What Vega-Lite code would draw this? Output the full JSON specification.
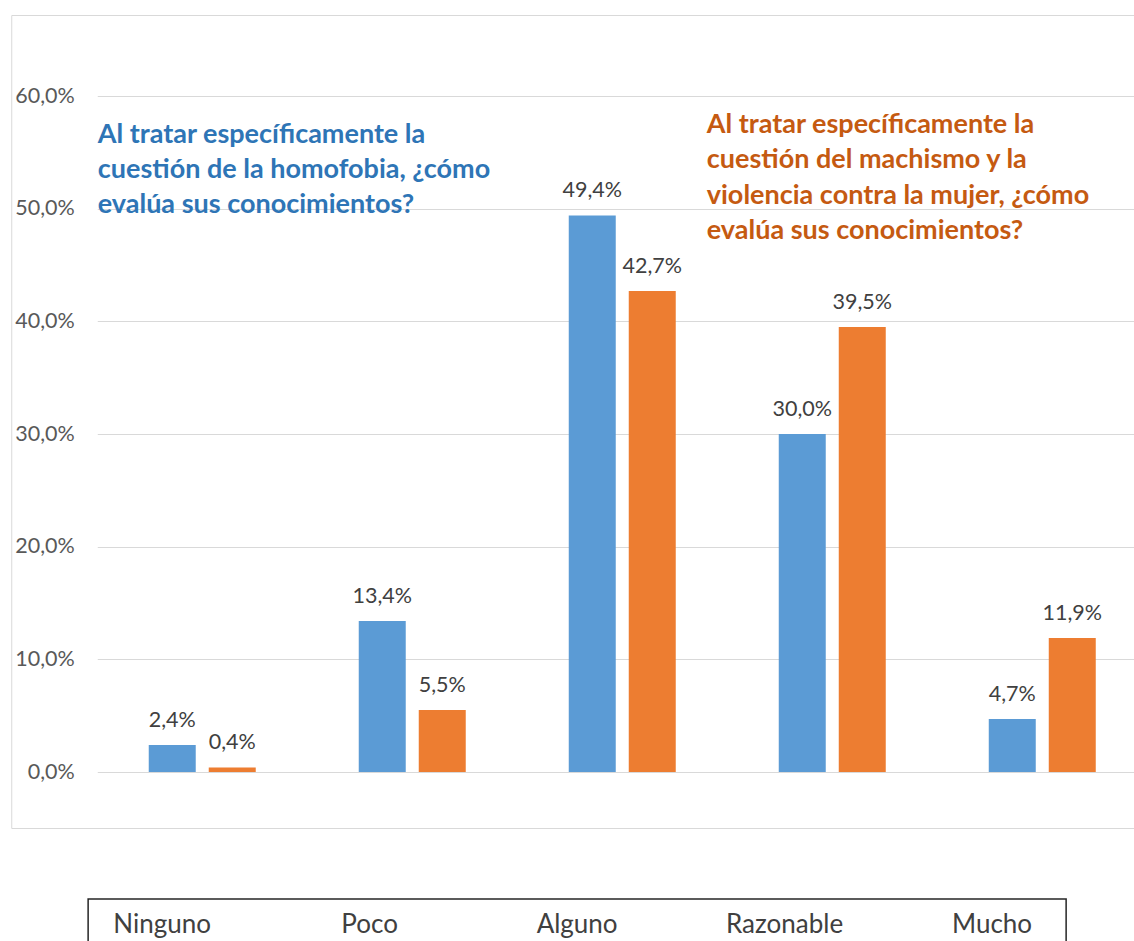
{
  "$schema": "https://vega.github.io/schema/vega-lite/v6.json",
  "padding": {"left": 10, "top": 14, "right": 0, "bottom": 0},
  "background": "white",
  "center": true,
  "spacing": 69,
  "config": {
    "locale": {"number": {"decimal": ",", "thousands": ".", "grouping": [3], "currency": ["", " €"]}},
    "font": "Lato"
  },
  "vconcat": [
    {
      "width": 1132,
      "height": 813,
      "view": {"stroke": "#d9d9d9", "strokeWidth": 1},
      "data": {
        "values": [
          {"nivel": "Ninguno", "serie": "Homofobia", "valor": 0.024},
          {"nivel": "Ninguno", "serie": "Machismo", "valor": 0.004},
          {"nivel": "Poco", "serie": "Homofobia", "valor": 0.134},
          {"nivel": "Poco", "serie": "Machismo", "valor": 0.055},
          {"nivel": "Alguno", "serie": "Homofobia", "valor": 0.494},
          {"nivel": "Alguno", "serie": "Machismo", "valor": 0.427},
          {"nivel": "Razonable", "serie": "Homofobia", "valor": 0.300},
          {"nivel": "Razonable", "serie": "Machismo", "valor": 0.395},
          {"nivel": "Mucho", "serie": "Homofobia", "valor": 0.047},
          {"nivel": "Mucho", "serie": "Machismo", "valor": 0.119}
        ]
      },
      "encoding": {
        "x": {
          "field": "nivel",
          "type": "nominal",
          "sort": ["Ninguno", "Poco", "Alguno", "Razonable", "Mucho"],
          "scale": {"range": [86, 1136], "paddingInner": 0.4905, "paddingOuter": 0.2452},
          "axis": null
        },
        "y": {
          "field": "valor",
          "type": "quantitative",
          "scale": {"domain": [-0.0497, 0.6719], "nice": false, "zero": false},
          "axis": {
            "values": [0, 0.1, 0.2, 0.3, 0.4, 0.5, 0.6],
            "format": ".1%",
            "offset": -63,
            "labelPadding": 0,
            "ticks": false,
            "domain": false,
            "grid": true,
            "gridColor": "#d9d9d9",
            "gridWidth": 1,
            "labelFont": "Lato",
            "labelFontSize": 21.5,
            "labelColor": "#595959",
            "title": null
          }
        }
      },
      "layer": [
        {
          "mark": {"type": "bar"},
          "encoding": {
            "xOffset": {
              "field": "serie",
              "type": "nominal",
              "sort": ["Homofobia", "Machismo"],
              "scale": {"paddingInner": 0.2167, "paddingOuter": 0}
            },
            "color": {
              "field": "serie",
              "type": "nominal",
              "scale": {"domain": ["Homofobia", "Machismo"], "range": ["#5b9bd5", "#ed7d31"]},
              "legend": null
            }
          }
        },
        {
          "mark": {"type": "text", "baseline": "alphabetic", "dy": -18, "fontSize": 21.5, "font": "Lato", "color": "#404040"},
          "encoding": {
            "xOffset": {"field": "serie", "type": "nominal", "sort": ["Homofobia", "Machismo"]},
            "text": {"field": "valor", "type": "quantitative", "format": ".1%"}
          }
        },
        {
          "data": {"values": [
            {"nivel": "Ninguno", "valor": 0.5583, "texto": "Al tratar específicamente la\ncuestión de la homofobia, ¿cómo\nevalúa sus conocimientos?"}
          ]},
          "mark": {"type": "text", "align": "left", "baseline": "alphabetic", "lineBreak": "\n", "lineHeight": 35, "fontSize": 27, "fontWeight": "bold", "font": "Lato", "color": "#2e75b6", "dx": -51},
          "encoding": {
            "x": {"field": "nivel", "type": "nominal", "bandPosition": 0},
            "text": {"field": "texto"}
          }
        },
        {
          "data": {"values": [
            {"nivel": "Razonable", "valor": 0.5672, "texto": "Al tratar específicamente la\ncuestión del machismo y la\nviolencia contra la mujer, ¿cómo\nevalúa sus conocimientos?"}
          ]},
          "mark": {"type": "text", "align": "left", "baseline": "alphabetic", "lineBreak": "\n", "lineHeight": 35.3, "fontSize": 27, "fontWeight": "bold", "font": "Lato", "color": "#c55a11", "dx": -72},
          "encoding": {
            "x": {"field": "nivel", "type": "nominal", "bandPosition": 0},
            "text": {"field": "texto"}
          }
        }
      ]
    },
    {
      "width": 978,
      "height": 52,
      "view": {"stroke": "#262626", "strokeWidth": 1.5},
      "data": {"values": [
        {"nivel": "Ninguno"},
        {"nivel": "Poco"},
        {"nivel": "Alguno"},
        {"nivel": "Razonable"},
        {"nivel": "Mucho"}
      ]},
      "mark": {"type": "text", "fontSize": 26, "font": "Lato", "color": "#404040", "baseline": "middle"},
      "encoding": {
        "x": {"field": "nivel", "type": "nominal", "sort": null, "scale": {"type": "point", "padding": 0.357}, "axis": null},
        "text": {"field": "nivel"}
      }
    }
  ]
}
